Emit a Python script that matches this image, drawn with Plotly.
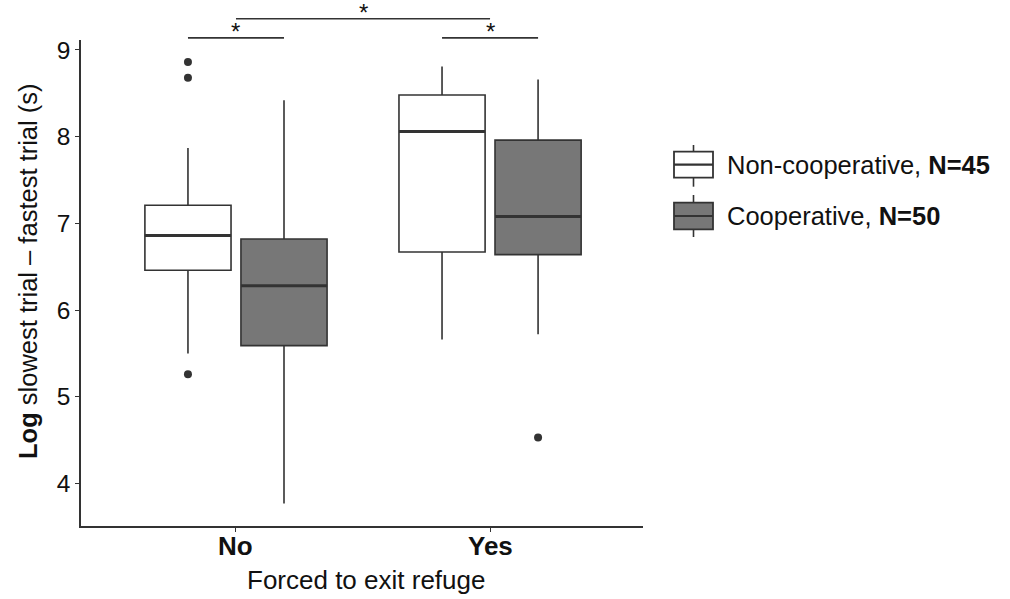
import plotly.graph_objects as go

# ---- data -------------------------------------------------------------
groups = ["No", "Yes"]
group_pos = [0, 1]

noncoop_q1 = [6.46, 6.67]
noncoop_median = [6.86, 8.06]
noncoop_q3 = [7.21, 8.48]
noncoop_lower = [5.50, 5.66]
noncoop_upper = [7.87, 8.81]
noncoop_outliers = [[5.26, 8.68, 8.86], []]

coop_q1 = [5.59, 6.64]
coop_median = [6.28, 7.08]
coop_q3 = [6.82, 7.96]
coop_lower = [3.77, 5.72]
coop_upper = [8.42, 8.66]
coop_outliers = [[], [4.53]]

series_labels = ["Non-cooperative, <b>N=45</b>", "Cooperative, <b>N=50</b>"]
y_ticks = [4, 5, 6, 7, 8, 9]

# significance brackets: (left x, right x, height)
DODGE = 0.189
sig_pairs = [
    (group_pos[0] - DODGE, group_pos[0] + DODGE, 9.14),
    (group_pos[1] - DODGE, group_pos[1] + DODGE, 9.14),
    (group_pos[0], group_pos[1], 9.36),
]

# ---- layout geometry ---------------------------------------------------
W, H = 1010, 599
ML, MR, MT, MB = 81, 367, 40, 73
PW, PH = W - ML - MR, H - MT - MB
X_RANGE = [-0.61, 1.602]
Y_RANGE = [3.51, 9.115]
BOX_W = 0.339
INK = "#333333"
TXT = "#111111"
FILLS = ["#ffffff", "#777777"]
FONT = "Liberation Sans, Arial, sans-serif"


def to_px(v):
    return (v - X_RANGE[0]) / (X_RANGE[1] - X_RANGE[0])


def to_py(v):
    return (v - Y_RANGE[0]) / (Y_RANGE[1] - Y_RANGE[0])


def pix_x(p):
    return (p - ML) / PW


def pix_y(p):
    return (MT + PH - p) / PH


fig = go.Figure()
shapes = []
annotations = []

series = [
    (noncoop_q1, noncoop_median, noncoop_q3, noncoop_lower, noncoop_upper, noncoop_outliers, -DODGE),
    (coop_q1, coop_median, coop_q3, coop_lower, coop_upper, coop_outliers, DODGE),
]

for i, (q1, med, q3, lo, hi, outs, off) in enumerate(series):
    xs = [g + off for g in group_pos]
    fig.add_trace(go.Box(
        x=xs, q1=q1, median=med, q3=q3, lowerfence=lo, upperfence=hi,
        width=BOX_W, whiskerwidth=0, fillcolor=FILLS[i],
        line=dict(color=INK, width=1.6), name=series_labels[i],
        showlegend=False, hoverinfo="skip", boxpoints=False,
    ))
    # thicker median bars
    for x, m in zip(xs, med):
        shapes.append(dict(type="line", xref="x", yref="y",
                           x0=x - BOX_W / 2, x1=x + BOX_W / 2, y0=m, y1=m,
                           line=dict(color=INK, width=3)))
    ox, oy = [], []
    for x, pts in zip(xs, outs):
        for p in pts:
            ox.append(x)
            oy.append(p)
    if ox:
        fig.add_trace(go.Scatter(x=ox, y=oy, mode="markers", showlegend=False,
                                 marker=dict(color=INK, size=8), hoverinfo="skip",
                                 cliponaxis=False))

# significance brackets with stars
for x0, x1, h in sig_pairs:
    shapes.append(dict(type="line", xref="paper", yref="paper",
                       x0=to_px(x0), x1=to_px(x1), y0=to_py(h), y1=to_py(h),
                       line=dict(color=INK, width=1.7)))
    annotations.append(dict(xref="paper", yref="paper", x=to_px((x0 + x1) / 2),
                            y=to_py(h), text="*", showarrow=False,
                            xanchor="center", yanchor="bottom", yshift=-9,
                            font=dict(size=24, color=TXT, family=FONT)))

# x tick labels
for g, p in zip(groups, group_pos):
    annotations.append(dict(xref="paper", yref="paper", x=to_px(p), y=pix_y(546),
                            text="<b>%s</b>" % g, showarrow=False,
                            xanchor="center", yanchor="middle",
                            font=dict(size=26, color=TXT, family=FONT)))

# legend keys drawn as miniature boxes
key_rows = [(151.7, 164.7, 177.7, 145, 186.7), (202.7, 216, 229.3, 195, 237)]
kx0, kx1 = 674, 713
kxc = (kx0 + kx1) / 2
for i, (top, mid, bot, wt, wb) in enumerate(key_rows):
    shapes.append(dict(type="line", xref="paper", yref="paper",
                       x0=pix_x(kxc), x1=pix_x(kxc), y0=pix_y(wt), y1=pix_y(wb),
                       line=dict(color=INK, width=1.6)))
    shapes.append(dict(type="rect", xref="paper", yref="paper",
                       x0=pix_x(kx0), x1=pix_x(kx1), y0=pix_y(top), y1=pix_y(bot),
                       fillcolor=FILLS[i], line=dict(color=INK, width=1.8)))
    shapes.append(dict(type="line", xref="paper", yref="paper",
                       x0=pix_x(kx0), x1=pix_x(kx1), y0=pix_y(mid), y1=pix_y(mid),
                       line=dict(color=INK, width=2.2)))
    annotations.append(dict(xref="paper", yref="paper", x=pix_x(725), y=pix_y(mid),
                            text=series_labels[i], showarrow=False,
                            xanchor="left", yanchor="middle",
                            font=dict(size=25.5, color=TXT, family=FONT)))

# axis titles
annotations.append(dict(xref="paper", yref="paper", x=pix_x(28), y=pix_y(272),
                        text="<b>Log</b> slowest trial \u2013 fastest trial (s)",
                        textangle=-90, showarrow=False, xanchor="center", yanchor="middle",
                        font=dict(size=25.5, color=TXT, family=FONT)))
annotations.append(dict(xref="paper", yref="paper", x=pix_x(366), y=pix_y(580),
                        text="Forced to exit refuge", showarrow=False,
                        xanchor="center", yanchor="middle",
                        font=dict(size=26, color=TXT, family=FONT)))

fig.update_layout(
    width=W, height=H,
    margin=dict(l=ML, r=MR, t=MT, b=MB),
    paper_bgcolor="white", plot_bgcolor="white",
    font=dict(family=FONT, color=TXT),
    showlegend=False,
    shapes=shapes, annotations=annotations,
    xaxis=dict(range=X_RANGE, tickvals=group_pos, showticklabels=False,
               showgrid=False, zeroline=False, showline=True, linecolor=INK,
               linewidth=1.6, ticks="outside", ticklen=4, tickcolor=INK, tickwidth=1.2),
    yaxis=dict(range=Y_RANGE, tickvals=y_ticks,
               tickfont=dict(size=24.5, color=TXT),
               showgrid=False, zeroline=False, showline=True, linecolor=INK,
               linewidth=1.6, ticks="outside", ticklen=4, tickcolor=INK, tickwidth=1.2),
)

fig.write_html("out.html")
